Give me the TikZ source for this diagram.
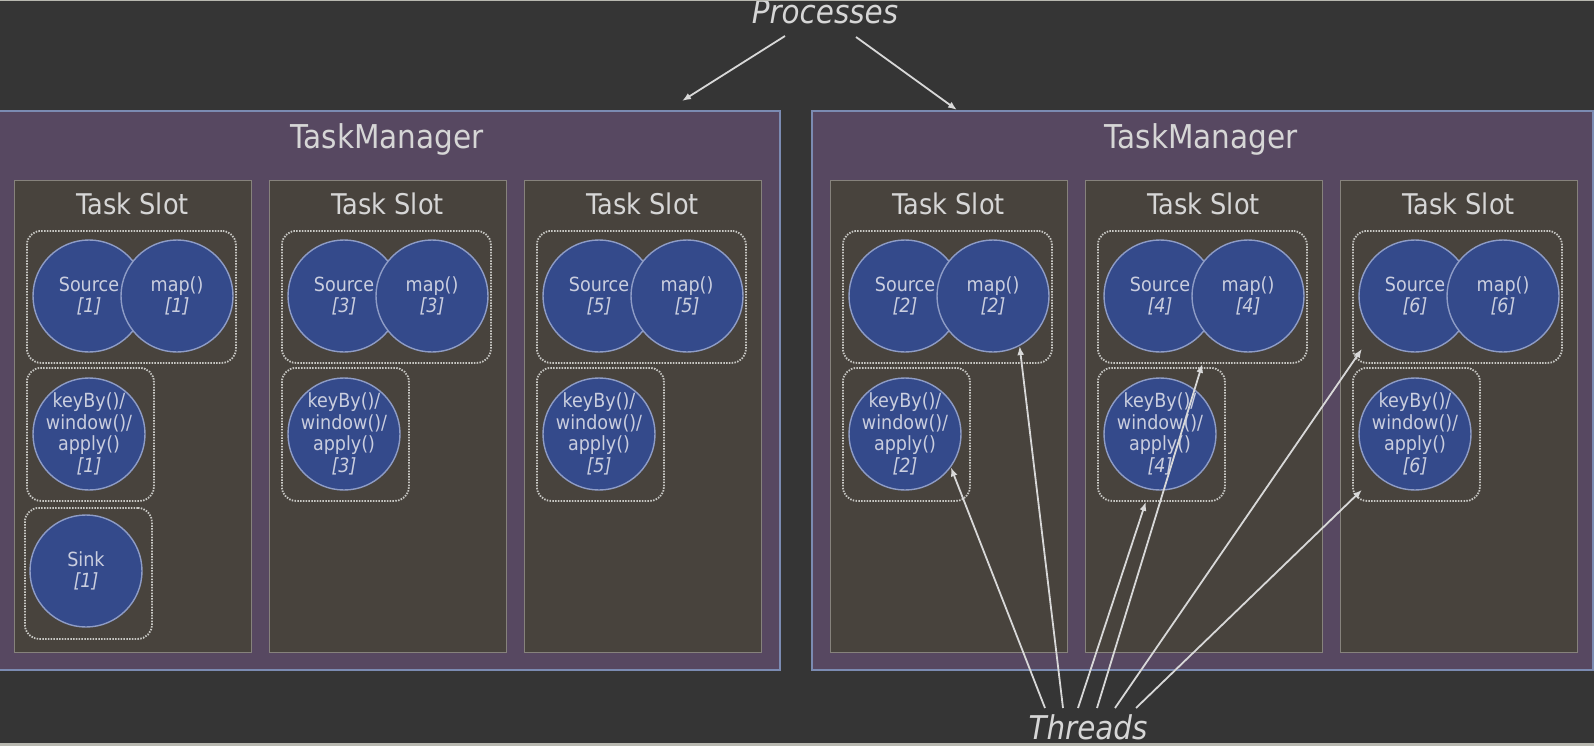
\documentclass[tikz,border=0pt]{standalone}
\usepackage{fontspec}
\setmainfont{DejaVu Sans}[FakeStretch=0.9]
\usetikzlibrary{arrows.meta,calc}

\definecolor{bgc}{HTML}{353535}
\definecolor{edgec}{HTML}{B8B8B0}
\definecolor{tmfill}{HTML}{574861}
\definecolor{tmborder}{HTML}{7B8BB2}
\definecolor{slotfill}{HTML}{48433D}
\definecolor{slotborder}{HTML}{86827C}
\definecolor{grpborder}{HTML}{C8C8C4}
\definecolor{opfill}{HTML}{344A8B}
\definecolor{opborder}{HTML}{8E9CC6}
\definecolor{txt}{HTML}{D6D6D6}
\definecolor{optxt}{HTML}{CACEDF}
\definecolor{arrc}{HTML}{D8D8D8}

\begin{document}
\begin{tikzpicture}[x=1pt,y=-1pt,
  tm/.style={draw=tmborder,line width=2pt,fill=tmfill,inner sep=0pt,anchor=north west},
  tmlabel/.style={text=txt,anchor=base,inner sep=0pt,font=\fontsize{32.8}{36}\selectfont},
  slot/.style={draw=slotborder,line width=1.3pt,fill=slotfill,inner sep=0pt,anchor=north west,
    minimum width=237pt,minimum height=472pt},
  slotlabel/.style={text=txt,anchor=base,inner sep=0pt,font=\fontsize{28.5}{32}\selectfont},
  grp/.style={draw=grpborder,line width=1.8pt,dash pattern=on 1.5pt off 1.3pt,rounded corners=14pt,
    inner sep=0pt,anchor=north west},
  op/.style={circle,draw=opborder,line width=1.4pt,fill=opfill,minimum size=112pt,inner sep=0pt},
  optext/.style={text=optxt,align=center,inner sep=0pt,font=\fontsize{19.5}{21.6}\selectfont},
  caption/.style={text=txt,anchor=base,inner sep=0pt,font=\itshape\fontsize{32.7}{36}\selectfont},
  arr/.style={draw=arrc,line width=1.8pt,-{Latex[length=9pt,width=7pt]}}
]
\useasboundingbox (0,0) rectangle (1594,746);
\fill[bgc] (0,0) rectangle (1594,746);

% the two TaskManager processes
\node[tm,minimum width=784pt,minimum height=559pt] (tm1) at (-5,110) {};
\node[tm,minimum width=781pt,minimum height=559pt] (tm2) at (811,110) {};
\node[tmlabel] (tm1-title) at (387,149) {TaskManager};
\node[tmlabel] (tm2-title) at (1201,149) {TaskManager};

% task slots with their chained operators
\foreach \sx/\k in {14/1,269/3,524/5,830/2,1085/4,1340/6}{
  \node[slot] (slot\k) at (\sx,180) {};
  \node[slotlabel] (slot\k-title) at (\sx+118.5,214) {Task Slot};
  \node[grp,minimum width=209pt,minimum height=132pt] (tg\k) at (\sx+12,230) {};
  \node[grp,minimum width=127pt,minimum height=133pt] (kbg\k) at (\sx+12,367) {};
  \node[op] (src\k) at (\sx+75,296) {};
  \node[optext] (src\k-t) at (src\k) {Source\\\textit{[\k]}};
  \node[op] (map\k) at (\sx+163,296) {};
  \node[optext] (map\k-t) at (map\k) {map()\\\textit{[\k]}};
  \node[op] (kb\k) at (\sx+75,434) {};
  \node[optext] (kb\k-t) at (kb\k) {keyBy()/\\window()/\\apply()\\\textit{[\k]}};
}

% the sink lives in the first slot only
\node[grp,minimum width=127pt,minimum height=131pt] (sinkg1) at (24,507) {};
\node[op] (sink1) at (86,571) {};
\node[optext] (sink1-t) at (sink1) {Sink\\\textit{[1]}};

% captions
\node[caption] (processes) at (825,24) {Processes};
\node[caption] (threads) at (1088,739) {Threads};

% pointers from the captions
\coordinate (p1) at (785,36);
\coordinate (p2) at (856,37);
\draw[arr] (p1) -- ($(tm1.north east)+(-99,-9)$);
\draw[arr] (p2) -- ($(tm2.north west)+(146,0)$);

\coordinate (t1) at (1045,708);
\coordinate (t2) at (1063,708);
\coordinate (t3) at (1078,708);
\coordinate (t4) at (1097,708);
\coordinate (t5) at (1115,708);
\coordinate (t6) at (1136,708);
\draw[arr] (t1) -- (kb2.-36);
\draw[arr] (t2) -- (map2.-62);
\draw[arr] (t3) -- (kbg4.-103);
\draw[arr] (t4) -- (tg4.south);
\draw[arr] (t5) -- ($(tg6.south west)+(10,-15)$);
\draw[arr] (t6) -- ($(kbg6.south west)+(10,-12)$);

% thin light frame lines at top and bottom
\fill[edgec] (0,0) rectangle (1594,1.5);
\fill[edgec] (0,743) rectangle (1594,746);
\end{tikzpicture}
\end{document}
